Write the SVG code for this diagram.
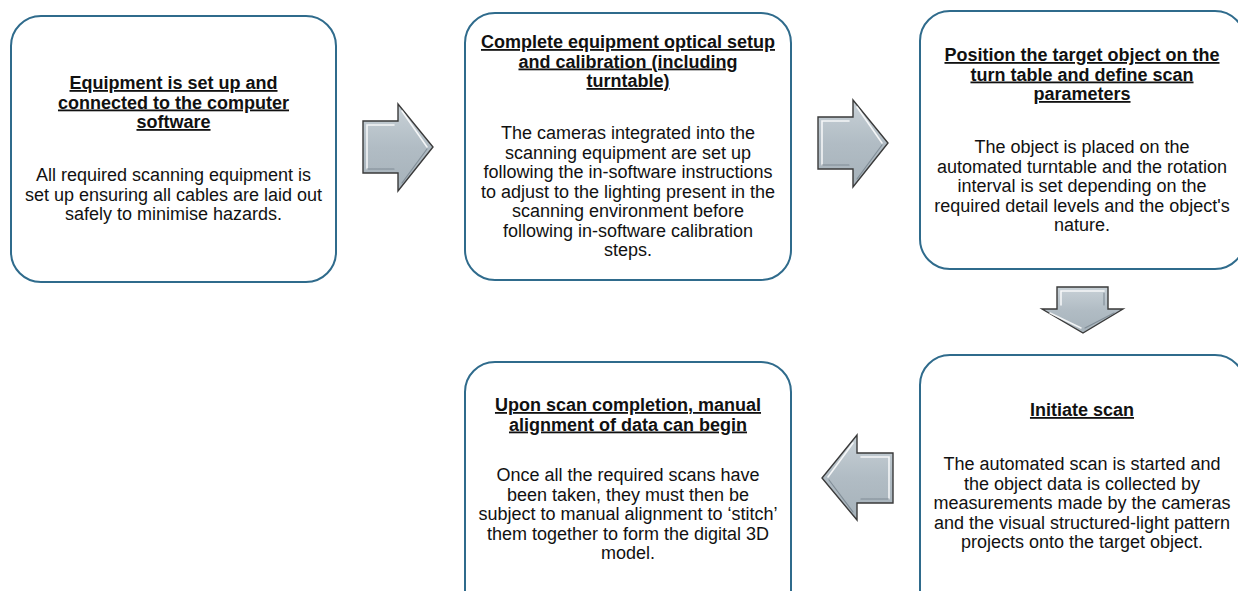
<svg xmlns="http://www.w3.org/2000/svg" width="1238" height="591" viewBox="0 0 1238 591">
  <defs>
    <linearGradient id="arrowFill" x1="0" y1="0" x2="0" y2="1">
      <stop offset="0" stop-color="#c8d1d7"/>
      <stop offset="0.5" stop-color="#b1bcc4"/>
      <stop offset="1" stop-color="#a6b2ba"/>
    </linearGradient>
    <style>
      .box { fill: #ffffff; stroke: #2f6b8c; stroke-width: 2; }
      .head { font-family: "Liberation Sans", Arial, sans-serif; font-size: 18px; font-weight: bold; fill: #111111; text-anchor: middle; text-decoration: underline; }
      .body { font-family: "Liberation Sans", Arial, sans-serif; font-size: 18px; fill: #111111; text-anchor: middle; }
      .arrow { fill: url(#arrowFill); stroke: #3a3a3a; stroke-width: 1.4; stroke-linejoin: miter; }
      .shine { fill: none; stroke: #ffffff; stroke-width: 1.6; stroke-opacity: 0.85; stroke-linecap: round; }
      .shade { fill: none; stroke: #6f7c86; stroke-width: 1.2; stroke-opacity: 0.7; stroke-linecap: round; }
    </style>
  </defs>

  <!-- Step 1 -->
  <g id="step-setup">
    <rect class="box" x="11" y="16" width="325" height="266" rx="30" ry="30"/>
    <text class="head" x="173.5" y="89">Equipment is set up and</text>
    <text class="head" x="173.5" y="108.5">connected to the computer</text>
    <text class="head" x="173.5" y="128">software</text>
    <text class="body" x="173.5" y="181">All required scanning equipment is</text>
    <text class="body" x="173.5" y="200.5">set up ensuring all cables are laid out</text>
    <text class="body" x="173.5" y="220">safely to minimise hazards.</text>
  </g>

  <!-- Step 2 -->
  <g id="step-calibration">
    <rect class="box" x="465" y="13" width="326" height="267" rx="30" ry="30"/>
    <text class="head" x="628" y="48">Complete equipment optical setup</text>
    <text class="head" x="628" y="67.5">and calibration (including</text>
    <text class="head" x="628" y="87">turntable)</text>
    <text class="body" x="628" y="139">The cameras integrated into the</text>
    <text class="body" x="628" y="158.5">scanning equipment are set up</text>
    <text class="body" x="628" y="178">following the in-software instructions</text>
    <text class="body" x="628" y="197.5">to adjust to the lighting present in the</text>
    <text class="body" x="628" y="217">scanning environment before</text>
    <text class="body" x="628" y="236.5">following in-software calibration</text>
    <text class="body" x="628" y="256">steps.</text>
  </g>

  <!-- Step 3 -->
  <g id="step-position">
    <rect class="box" x="920" y="11" width="325" height="258" rx="30" ry="30"/>
    <text class="head" x="1082" y="61">Position the target object on the</text>
    <text class="head" x="1082" y="80.5">turn table and define scan</text>
    <text class="head" x="1082" y="100">parameters</text>
    <text class="body" x="1082" y="153">The object is placed on the</text>
    <text class="body" x="1082" y="172.5">automated turntable and the rotation</text>
    <text class="body" x="1082" y="192">interval is set depending on the</text>
    <text class="body" x="1082" y="211.5">required detail levels and the object's</text>
    <text class="body" x="1082" y="231">nature.</text>
  </g>

  <!-- Step 4 -->
  <g id="step-scan">
    <rect class="box" x="920" y="355" width="325" height="266" rx="30" ry="30"/>
    <text class="head" x="1082" y="416">Initiate scan</text>
    <text class="body" x="1082" y="470">The automated scan is started and</text>
    <text class="body" x="1082" y="489.5">the object data is collected by</text>
    <text class="body" x="1082" y="509">measurements made by the cameras</text>
    <text class="body" x="1082" y="528.5">and the visual structured-light pattern</text>
    <text class="body" x="1082" y="548">projects onto the target object.</text>
  </g>

  <!-- Step 5 -->
  <g id="step-alignment">
    <rect class="box" x="465" y="362" width="326" height="266" rx="30" ry="30"/>
    <text class="head" x="628" y="411">Upon scan completion, manual</text>
    <text class="head" x="628" y="430.5">alignment of data can begin</text>
    <text class="body" x="628" y="481">Once all the required scans have</text>
    <text class="body" x="628" y="500.5">been taken, they must then be</text>
    <text class="body" x="628" y="520">subject to manual alignment to ‘stitch’</text>
    <text class="body" x="628" y="539.5">them together to form the digital 3D</text>
    <text class="body" x="628" y="559">model.</text>
  </g>

  <!-- Block arrows between steps -->
  <g id="connectors">
    <!-- step 1 to step 2 -->
    <g id="arrow-1-2">
      <polygon class="arrow" points="363,121 398,121 398,104 433,147 398,191 398,173 363,173"/>
      <polyline class="shine" points="367,169 367,125 394,125"/>
      <polyline class="shine" points="402,111 427,147"/>
      <polyline class="shade" points="402,183 427,149"/>
      <polyline class="shade" points="367,169 394,169"/>
    </g>
    <!-- step 2 to step 3 -->
    <g id="arrow-2-3">
      <polygon class="arrow" points="818,117 853,117 853,100 888,143 853,187 853,169 818,169"/>
      <polyline class="shine" points="822,165 822,121 849,121"/>
      <polyline class="shine" points="857,107 882,143"/>
      <polyline class="shade" points="857,179 882,145"/>
      <polyline class="shade" points="822,165 849,165"/>
    </g>
    <!-- step 3 to step 4 -->
    <g id="arrow-3-4">
      <polygon class="arrow" points="1057,287 1108,287 1108,309 1123,309 1083,333 1042,309 1057,309"/>
      <polyline class="shine" points="1061,305 1061,291 1104,291"/>
      <polyline class="shine" points="1050,313 1081,328"/>
      <polyline class="shade" points="1085,328 1114,313"/>
      <polyline class="shade" points="1104,293 1104,305"/>
    </g>
    <!-- step 4 to step 5 -->
    <g id="arrow-4-5">
      <polygon class="arrow" points="893,453 857,453 857,435 822,478 857,520 857,503 893,503"/>
      <polyline class="shine" points="853,443 828,477"/>
      <polyline class="shine" points="861,457 889,457 889,499"/>
      <polyline class="shade" points="829,480 853,512"/>
      <polyline class="shade" points="861,499 889,499"/>
    </g>
  </g>
</svg>
